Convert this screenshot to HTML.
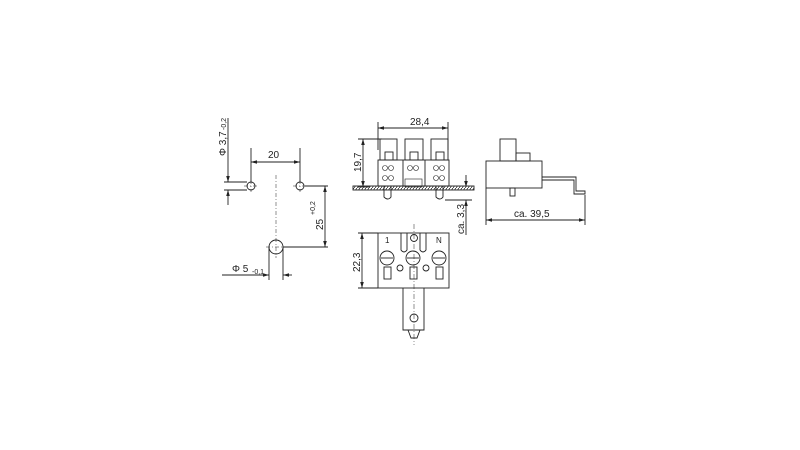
<!DOCTYPE html>
<html><head><style>
html,body{margin:0;padding:0;background:#fff;}
svg{display:block;}
text{font-family:"Liberation Sans Narrow","Liberation Sans",sans-serif;fill:#222;}
</style></head><body>
<svg width="800" height="450" viewBox="0 0 800 450" xmlns="http://www.w3.org/2000/svg">
<defs>
<marker id="a" viewBox="0 0 10 6" refX="10" refY="3" markerWidth="7" markerHeight="4" orient="auto-start-reverse"><path d="M0,0 L10,3 L0,6z" fill="#222"/></marker>
<pattern id="h" width="3" height="4" patternUnits="userSpaceOnUse"><path d="M0,4 L3,0" stroke="#222" stroke-width="0.7"/></pattern>
</defs>
<g stroke="#222" stroke-width="0.9" fill="none">
<circle cx="251" cy="186" r="4"/>
<circle cx="300" cy="186" r="4"/>
<circle cx="276" cy="247" r="7"/>
<g stroke-dasharray="4,2,1,2" stroke-width="0.5">
<line x1="276" y1="175" x2="276" y2="258"/>
<line x1="244" y1="186" x2="258" y2="186"/><line x1="293" y1="186" x2="307" y2="186"/>
<line x1="251" y1="180" x2="251" y2="192"/><line x1="300" y1="180" x2="300" y2="192"/>
<line x1="266" y1="247" x2="286" y2="247"/>
</g>
<line x1="251" y1="148" x2="251" y2="182"/><line x1="300" y1="148" x2="300" y2="182"/>
<line x1="251" y1="162" x2="300" y2="162" marker-start="url(#a)" marker-end="url(#a)"/>
<line x1="305" y1="186" x2="328" y2="186"/><line x1="283" y1="247" x2="328" y2="247"/>
<line x1="325" y1="186" x2="325" y2="247" marker-start="url(#a)" marker-end="url(#a)"/>
<line x1="224" y1="182" x2="247" y2="182"/><line x1="224" y1="190" x2="247" y2="190"/>
<line x1="228" y1="118" x2="228" y2="182" marker-end="url(#a)"/>
<line x1="228" y1="190" x2="228" y2="205" marker-start="url(#a)"/>
<line x1="269" y1="247" x2="269" y2="280"/><line x1="283" y1="247" x2="283" y2="280"/>
<line x1="222" y1="275" x2="269" y2="275" marker-end="url(#a)"/>
<line x1="283" y1="275" x2="292" y2="275" marker-start="url(#a)"/>
<line x1="378" y1="122" x2="378" y2="150"/><line x1="448" y1="122" x2="448" y2="150"/>
<line x1="378" y1="128" x2="448" y2="128" marker-start="url(#a)" marker-end="url(#a)"/>
<line x1="358" y1="139" x2="382" y2="139"/><line x1="358" y1="187" x2="370" y2="187"/>
<line x1="363" y1="139" x2="363" y2="187" marker-start="url(#a)" marker-end="url(#a)"/>
<rect x="380" y="139" width="17" height="21"/><rect x="405" y="139" width="18" height="21"/><rect x="431" y="139" width="17" height="21"/>
<rect x="385" y="152" width="8" height="8"/><rect x="410" y="152" width="8" height="8"/><rect x="436" y="152" width="8" height="8"/>
<rect x="378" y="160" width="71" height="26"/>
<line x1="403" y1="160" x2="403" y2="186"/><line x1="425" y1="160" x2="425" y2="186"/>
<g stroke-width="0.6">
<circle cx="385" cy="168" r="2.5"/><circle cx="391" cy="168" r="2.5"/><circle cx="385" cy="178" r="2.5"/><circle cx="391" cy="178" r="2.5"/>
<circle cx="410" cy="168" r="2.5"/><circle cx="416" cy="168" r="2.5"/>
<circle cx="436" cy="168" r="2.5"/><circle cx="442" cy="168" r="2.5"/><circle cx="436" cy="178" r="2.5"/><circle cx="442" cy="178" r="2.5"/>
<rect x="405" y="179" width="17" height="8"/>
</g>
<rect x="353" y="186" width="121" height="4" fill="url(#h)"/>
<path d="M384,186 L384,197 Q388,201 391,197 L391,186"/>
<path d="M436,186 L436,197 Q440,201 443,197 L443,186"/>
<line x1="445" y1="200" x2="472" y2="200"/>
<line x1="466" y1="175" x2="466" y2="187" marker-end="url(#a)"/>
<line x1="466" y1="200" x2="466" y2="235" marker-start="url(#a)"/>
<rect x="378" y="233" width="71" height="55"/>
<line x1="358" y1="233" x2="378" y2="233"/><line x1="358" y1="288" x2="378" y2="288"/>
<line x1="362" y1="233" x2="362" y2="288" marker-start="url(#a)" marker-end="url(#a)"/>
<path d="M401,233 L401,250 Q404,254 407,250 L407,233"/>
<path d="M420,233 L420,250 Q423,254 426,250 L426,233"/>
<circle cx="414" cy="238" r="3.5"/>
<circle cx="387" cy="258" r="7"/><circle cx="413" cy="258" r="7"/><circle cx="439" cy="258" r="7"/>
<line x1="381" y1="258" x2="393" y2="258"/><line x1="407" y1="258" x2="419" y2="258"/><line x1="433" y1="258" x2="445" y2="258"/>
<rect x="384" y="267" width="7" height="12"/><rect x="410" y="267" width="7" height="12"/><rect x="436" y="267" width="7" height="12"/>
<circle cx="400" cy="268" r="3"/><circle cx="426" cy="268" r="3"/>
<path d="M403,288 L403,330 L424,330 L424,288"/>
<circle cx="414" cy="318" r="4"/>
<path d="M408,330 L411,338 L417,338 L420,330"/>
<line x1="414" y1="224" x2="414" y2="345" stroke-dasharray="5,2,1,2" stroke-width="0.5"/>
<rect x="500" y="139" width="16" height="22"/><rect x="516" y="153" width="14" height="8"/>
<rect x="486" y="161" width="56" height="27"/>
<path d="M542,177 L576,177 L576,191 L585,191 L585,194 L574,194 L574,180 L542,180"/>
<rect x="510" y="188" width="5" height="8"/>
<line x1="486" y1="188" x2="486" y2="225"/><line x1="585" y1="195" x2="585" y2="225"/>
<line x1="486" y1="220" x2="585" y2="220" marker-start="url(#a)" marker-end="url(#a)"/>
</g>
<g font-size="10">
<text x="268" y="158">20</text>
<text x="410" y="125">28,4</text>
<text x="514" y="217">ca. 39,5</text>
<text x="232" y="272">Φ 5</text><text x="252" y="274" font-size="7">-0,1</text>
<text transform="translate(226,156) rotate(-90)">Φ 3,7</text>
<text transform="translate(226,130) rotate(-90)" font-size="7">-0,2</text>
<text transform="translate(323,230) rotate(-90)">25</text>
<text transform="translate(315,215) rotate(-90)" font-size="7">+0,2</text>
<text transform="translate(361,172) rotate(-90)">19,7</text>
<text transform="translate(360,272) rotate(-90)">22,3</text>
<text transform="translate(464,234) rotate(-90)">ca. 3,3</text>
<text x="385" y="243" font-size="8">1</text><text x="436" y="243" font-size="8">N</text>
</g>
</svg>
</body></html>
